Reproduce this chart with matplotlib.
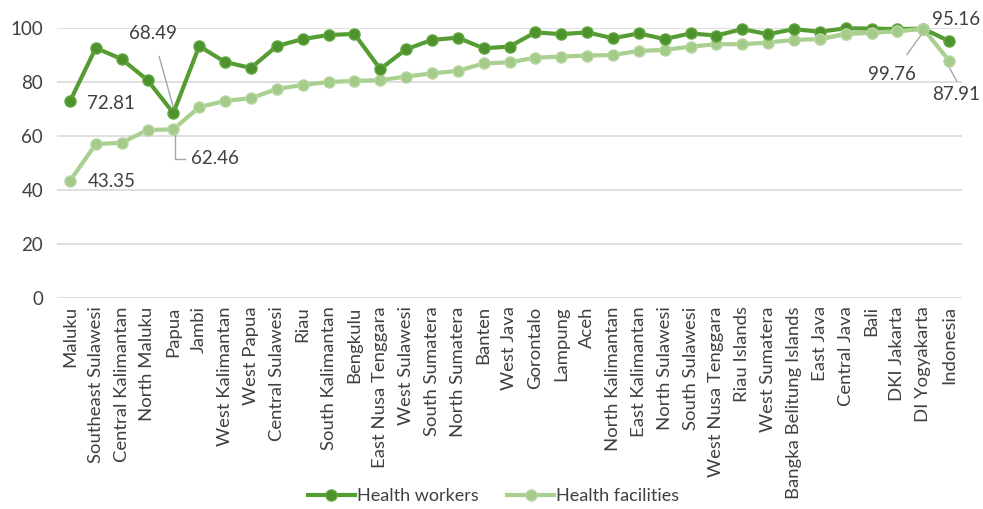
import matplotlib
matplotlib.use("Agg")
import matplotlib.pyplot as plt
import numpy as np

categories = ["Maluku", "Southeast Sulawesi", "Central Kalimantan", "North Maluku", "Papua",
              "Jambi", "West Kalimantan", "West Papua", "Central Sulawesi", "Riau",
              "South Kalimantan", "Bengkulu", "East Nusa Tenggara", "West Sulawesi",
              "South Sumatera", "North Sumatera", "Banten", "West Java", "Gorontalo",
              "Lampung", "Aceh", "North Kalimantan", "East Kalimantan", "North Sulawesi",
              "South Sulawesi", "West Nusa Tenggara", "Riau Islands", "West Sumatera",
              "Bangka Belitung Islands", "East Java", "Central Java", "Bali", "DKI Jakarta",
              "DI Yogyakarta", "Indonesia"]

health_workers = [72.81, 92.6, 88.5, 80.7, 68.49, 93.3, 87.4, 85.2, 93.3, 95.9,
                  97.4, 97.8, 84.8, 92.1, 95.6, 96.4, 92.5, 93.1, 98.4, 97.7,
                  98.4, 96.2, 98.0, 95.9, 98.0, 97.2, 99.6, 97.7, 99.6, 98.6,
                  99.9, 99.8, 99.6, 99.76, 95.16]

health_facilities = [43.35, 57.0, 57.5, 62.2, 62.46, 70.7, 73.0, 74.0, 77.4, 78.9,
                     80.0, 80.4, 80.7, 82.0, 83.2, 84.1, 86.9, 87.3, 89.0, 89.4,
                     89.8, 90.0, 91.5, 91.9, 93.1, 94.0, 94.0, 94.6, 95.6, 95.9,
                     97.8, 98.3, 98.8, 99.76, 87.91]

yticks = [0, 20, 40, 60, 80, 100]

plt.rcParams['font.family'] = ['Lato', 'DejaVu Sans']

W, H = 983, 509
fig = plt.figure(figsize=(W / 100, H / 100), dpi=100)
ax = fig.add_axes([57 / W, 1 - 298 / H, (962 - 57) / W, (298 - 28) / H])

x = np.arange(len(categories))
dark = "#559d33"
dark_m = "#4d922c"
light = "#a9d08f"
light_m = "#a5cb8b"

ax.plot(x, health_facilities, color=light, lw=3, marker='o', ms=8,
        markerfacecolor=light_m, markeredgecolor="#b8d8a3", mew=1, clip_on=False,
        zorder=3, label="Health facilities")
ax.plot(x, health_workers, color=dark, lw=3, marker='o', ms=8,
        markerfacecolor=dark_m, markeredgecolor="#62a841", mew=1, clip_on=False,
        zorder=4, label="Health workers")
ax.plot(x[29:34], health_facilities[29:34], color=light, lw=3, marker='o', ms=8,
        markerfacecolor=light_m, markeredgecolor="#b8d8a3", mew=1, clip_on=False, zorder=5)

ax.set_xlim(-0.5, len(categories) - 0.5)
ax.set_ylim(0, 100)
ax.set_yticks(yticks)
ax.set_xticks(x)
ax.set_xticklabels(categories, rotation=90, fontsize=13.3, color="#404040")
ax.tick_params(axis='y', labelsize=13.5, colors="#404040", length=0, pad=10)
ax.tick_params(axis='x', length=0, pad=6)
ax.grid(axis='y', color="#d9d9d9", lw=1.2)
ax.set_axisbelow(True)
for s in ax.spines.values():
    s.set_visible(False)

lab_kw = dict(fontsize=13.5, color="#404040")
lead_kw = dict(color="#a6a6a6", lw=1)

def lab(text, xi, yv):
    ax.text(xi, yv, text, ha='center', va='center', **lab_kw)

# Maluku
lab("72.81", 1.6, 72.2)
lab("43.35", 1.6, 43.0)
# Papua
ax.annotate("68.49", xy=(4, 70.5), xytext=(3.2, 98.1), ha='center', va='center',
            arrowprops=dict(arrowstyle='-', **lead_kw, shrinkA=9, shrinkB=0), **lab_kw)
ax.plot([4.05, 4.05, 4.45], [60.2, 51.5, 51.5], **lead_kw, zorder=2)
lab("62.46", 5.6, 51.5)
# DI Yogyakarta / Indonesia
ax.annotate("99.76", xy=(33.0, 98.5), xytext=(31.8, 82.6), ha='center', va='center',
            arrowprops=dict(arrowstyle='-', **lead_kw, shrinkA=8, shrinkB=0), **lab_kw)
lab("95.16", 34.26, 103)
ax.plot([34.0, 34.3], [85.5, 80.3], **lead_kw, zorder=2)
lab("87.91", 34.26, 75.2)

handles, labels = ax.get_legend_handles_labels()
leg = fig.legend([handles[1], handles[0]], [labels[1], labels[0]], loc='lower center',
                 bbox_to_anchor=(0.502, -0.022), ncol=2, frameon=False, fontsize=13,
                 handlelength=2.6, columnspacing=1.6, handletextpad=0.1)
for t in leg.get_texts():
    t.set_color("#404040")

fig.savefig("out.png", dpi=100)
